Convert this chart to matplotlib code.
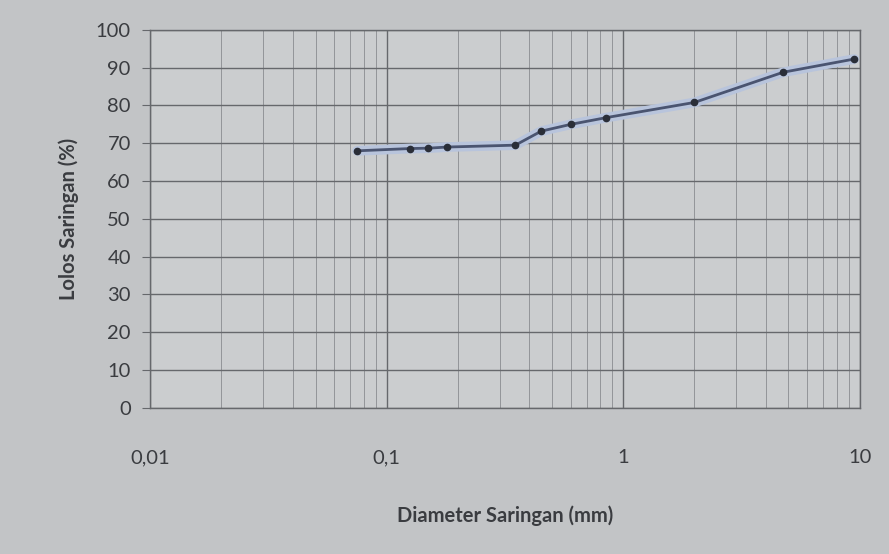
import matplotlib.pyplot as plt
from matplotlib.ticker import FixedLocator, LogLocator, NullFormatter

# sieve diameter (mm) and percent passing
diameter = [0.075, 0.125, 0.15, 0.18, 0.35, 0.45, 0.6, 0.85, 2.0, 4.75, 9.5]
passing = [68.0, 68.6, 68.7, 69.0, 69.5, 73.2, 75.0, 76.8, 80.8, 88.8, 92.3]

x_ticks = [0.01, 0.1, 1, 10]
x_labels = ["0,01", "0,1", "1", "10"]
y_ticks = list(range(0, 101, 10))

plt.rcParams['font.family'] = ['Lato', 'DejaVu Sans']

fig = plt.figure(figsize=(8.89, 5.54), dpi=100)
fig.patch.set_facecolor('#c2c4c6')
ax = fig.add_axes([0.169, 0.264, 0.798, 0.682])
ax.set_facecolor('#cbcdcf')

# halo behind the line, then the line with dots
ax.plot(diameter, passing, color='#b8c4dc', lw=7, solid_capstyle='round', zorder=2)
ax.plot(diameter, passing, color='#4a5470', lw=2, marker='o', ms=4.5,
        markerfacecolor='#2a2e38', markeredgecolor='#2a2e38', zorder=3)

ax.set_xscale('log')
ax.set_xlim(0.01, 10)
ax.set_ylim(0, 100)
ax.xaxis.set_major_locator(FixedLocator(x_ticks))
ax.set_xticklabels(x_labels)
ax.xaxis.set_minor_locator(LogLocator(base=10, subs=range(2, 10)))
ax.xaxis.set_minor_formatter(NullFormatter())
ax.set_yticks(y_ticks)

ax.grid(which='major', axis='both', color='#66686c', lw=1.0)
ax.grid(which='minor', axis='x', color='#8a8c90', lw=0.6)
ax.set_axisbelow(True)

for s in ax.spines.values():
    s.set_color('#66686c')
    s.set_linewidth(1.0)

ax.tick_params(axis='x', which='both', length=0, pad=30, labelsize=14.5, colors='#3a3c40')
ax.tick_params(axis='y', length=6, color='#66686c', labelsize=14.5, colors='#3a3c40', pad=8)

ax.set_xlabel('Diameter Saringan (mm)', fontsize=14.5, fontweight='bold', color='#3a3c40', labelpad=28)
ax.set_ylabel('Lolos Saringan (%)', fontsize=14.5, fontweight='bold', color='#3a3c40', labelpad=12)

fig.savefig('out.png', dpi=100, facecolor=fig.get_facecolor())
